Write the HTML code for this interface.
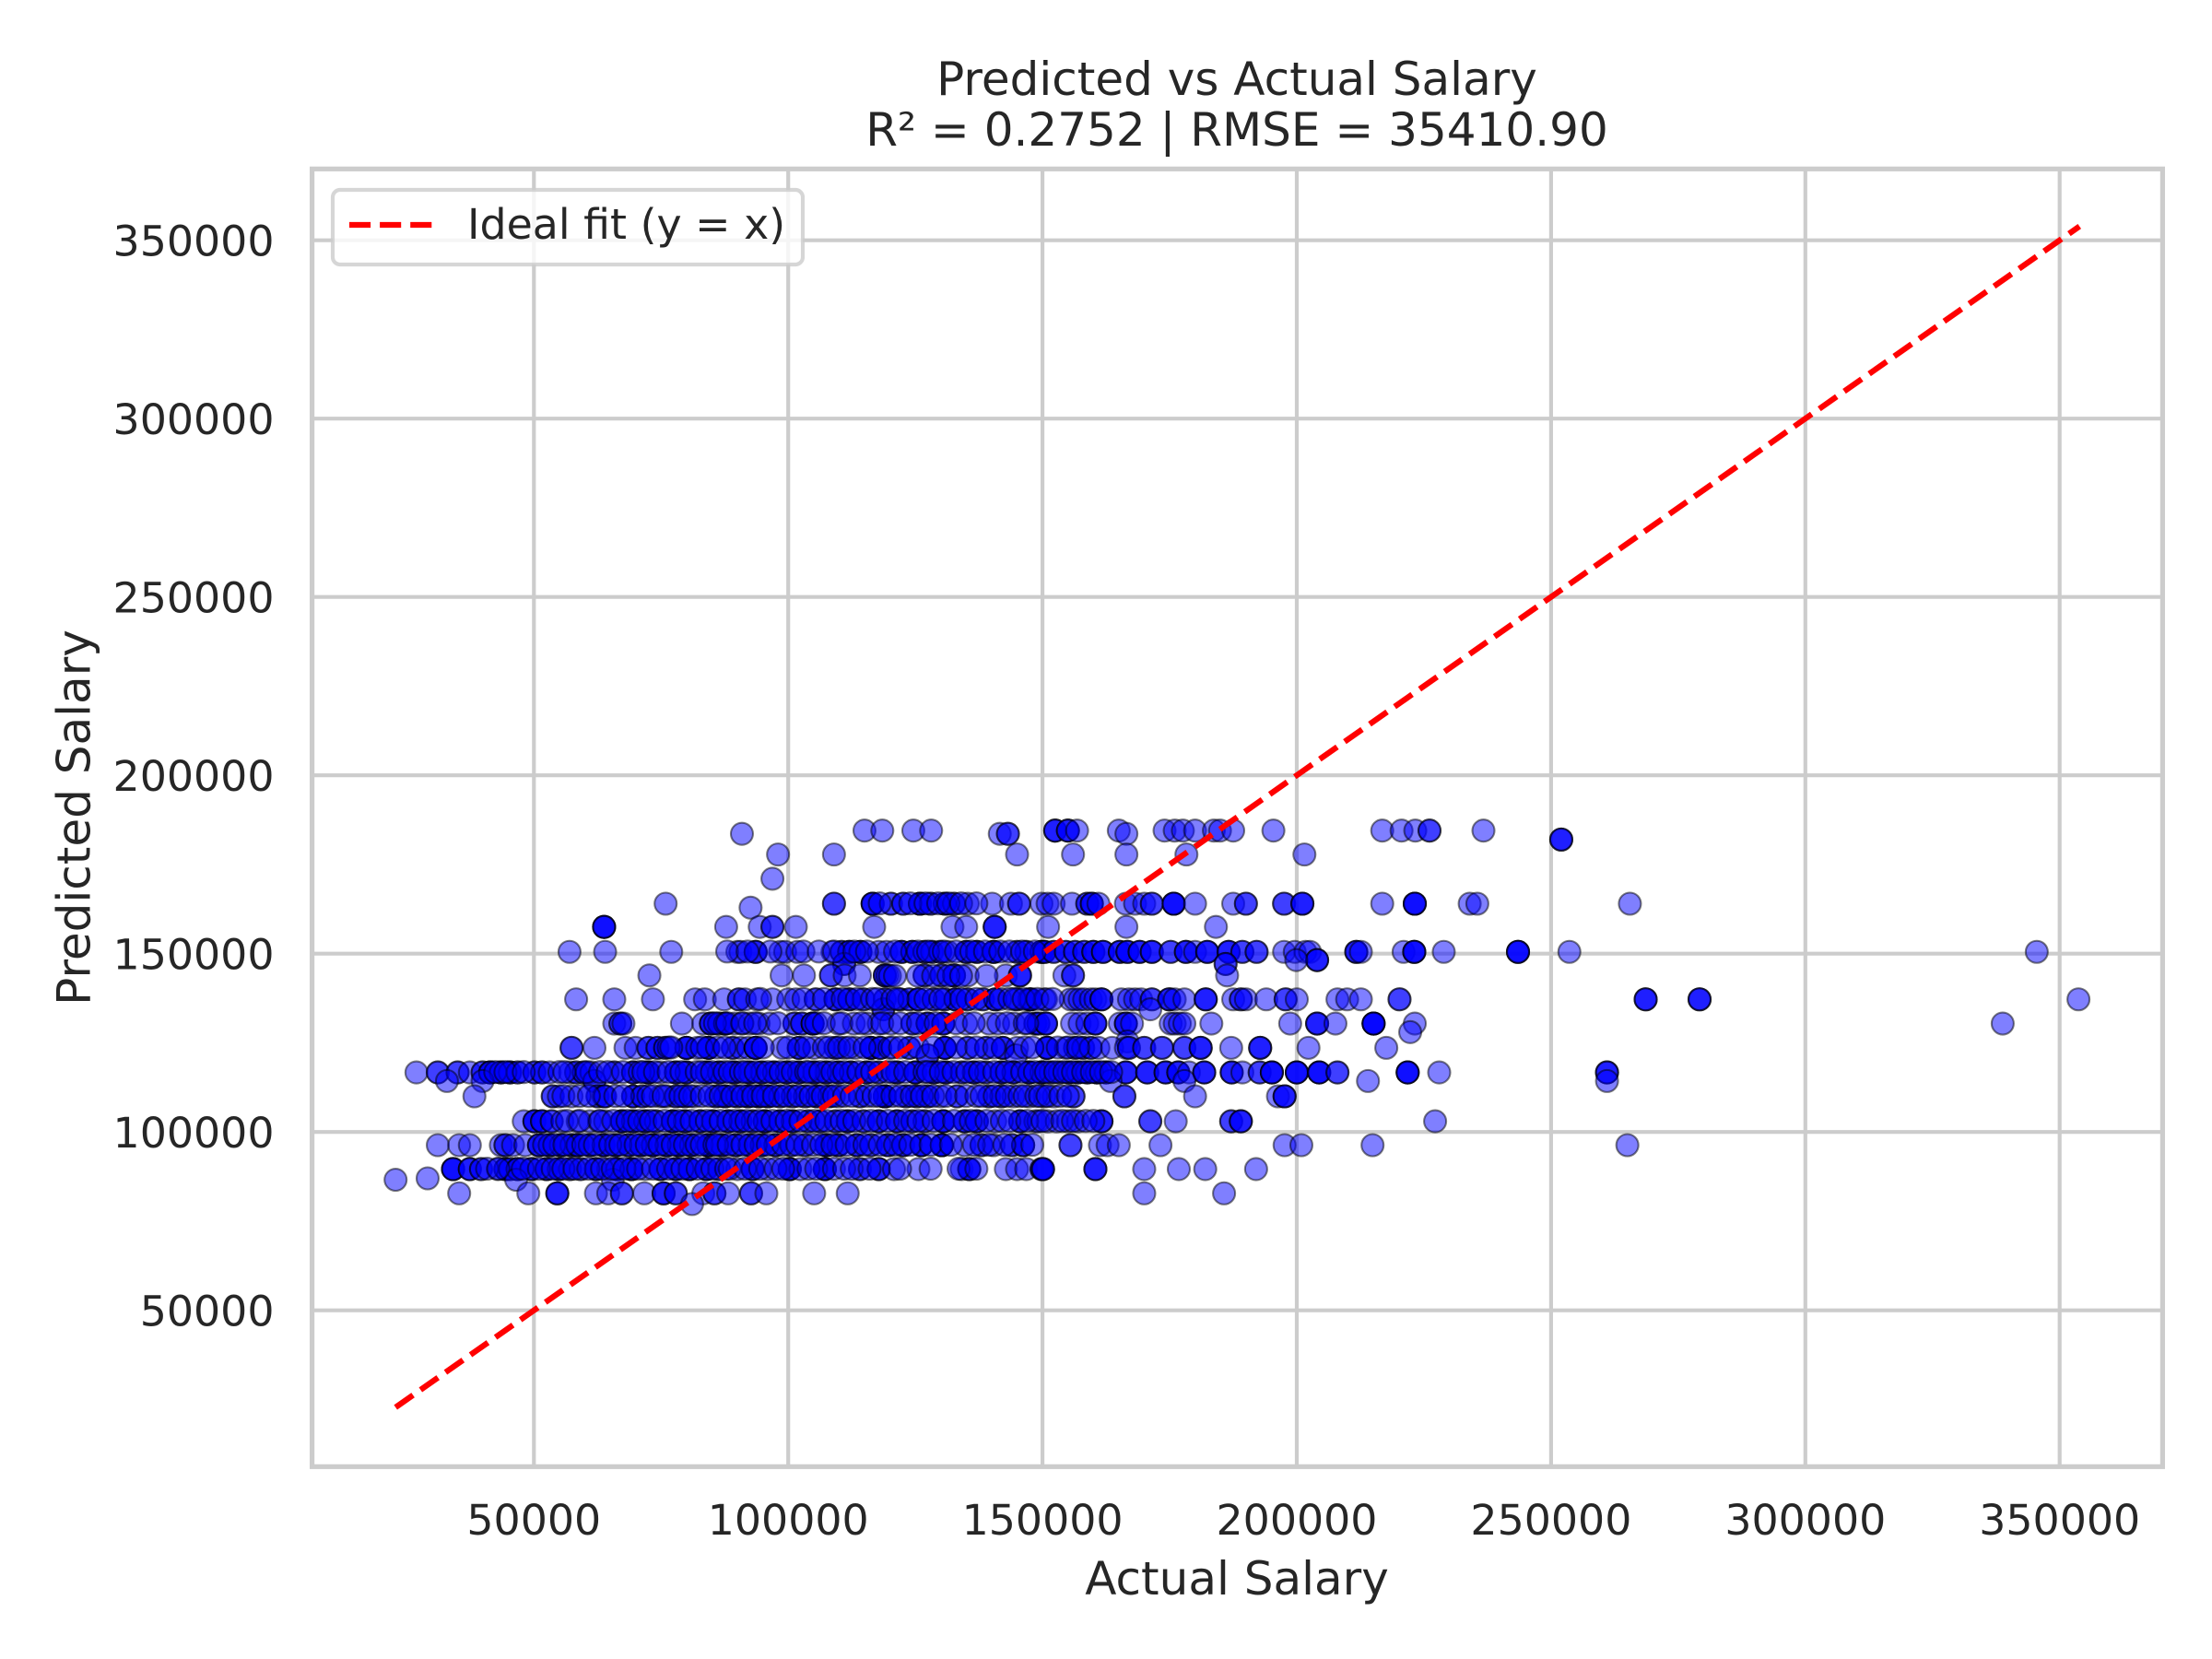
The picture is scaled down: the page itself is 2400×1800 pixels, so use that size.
<!DOCTYPE html>
<html lang="en">
<head>
<meta charset="utf-8">
<title>Predicted vs Actual Salary</title>
<style>
html,body{margin:0;padding:0;background:#fff;width:2400px;height:1800px;overflow:hidden}
svg{display:block}
text{font-family:"DejaVu Sans","Liberation Sans",sans-serif;fill:#262626}
</style>
</head>
<body>
<svg id="chart" xmlns="http://www.w3.org/2000/svg" width="2400" height="1800" viewBox="0 0 2400 1800">
<rect x="0" y="0" width="2400" height="1800" fill="#fff"/>
<text x="1342" y="103" font-size="50" text-anchor="middle">Predicted vs Actual Salary</text>
<text x="1342" y="158" font-size="50" text-anchor="middle">R² = 0.2752 | RMSE = 35410.90</text>
<text x="1342" y="1730" font-size="50" text-anchor="middle">Actual Salary</text>
<text transform="translate(97.5,887) rotate(-90)" font-size="50" text-anchor="middle">Predicted Salary</text>
<g id="grid"></g>
<g id="points"></g>
<g id="fit"></g>
<g id="spines"></g>
<g id="ticks"></g>
<g>
<rect x="361" y="206" width="510" height="81" rx="8" ry="8" fill="#fff" fill-opacity="0.8" stroke="#ccc" stroke-opacity="0.8" stroke-width="4.17"/>
<line x1="379" y1="244" x2="469" y2="244" stroke="#f00" stroke-width="6.25" stroke-dasharray="23.1 10"/>
<text x="507" y="259" font-size="45.83">Ideal fit (y = x)</text>
</g>
</svg>
<script>
// Axis ticks (dollars)
const xTicks = [50000, 100000, 150000, 200000, 250000, 300000, 350000];
const yTicks = [50000, 100000, 150000, 200000, 250000, 300000, 350000];
// Ideal fit endpoints (dollars)
const fitRange = [22800, 353900];
// Predicted salary of each row of points (thousands of dollars)
const predictedLevels = [184.5, 183.6, 182, 177.8, 171, 164, 162.9, 157.5, 150.5, 148.2, 147.1, 143.9, 137.2, 134.4, 130.4, 128, 125.4, 123.6, 121.5, 116.7, 114.3, 110, 103, 96.3, 89.6, 87, 86.6, 82.8, 79.8, 164.1, 150.6, 143.8, 137.3, 130.5, 123.7, 116.8, 110.1, 103.1, 96.4, 89.7];
// Actual salaries of the points on each row (thousands of dollars), same order as predictedLevels
const actualByLevel = [
[115,118.5,124.6,128.1,152.5,152.5,152.5,155,155,155,156.8,165,174,176,177.6,180,183.7,184.9,187.5,195.4,216.8,220.6,223.3,226.1,226.1,236.7],
[90.9,141.6,143.2,143.2,166.5],
[252,252,252],
[98,109,145,156,166.5,178.3,201.5],
[96.9],
[75.9,109,109,116.6,116.6,116.6,116.6,120.2,120.2,122.6,122.6,125.9,125.9,125.9,125.9,128,128,130.8,130.8,130.8,132.6,132.6,135.3,140.1,143.8,145.4,145.4,149.8,151,152.2,155.8,158.8,158.8,159.7,159.7,159.7,161,166.4,168.2,170,171.5,171.5,175.8,175.8,175.8,175.8,180,187.5,190,190,197.5,197.5,201.1,201.1,201.1,216.8,223.2,223.2,223.2,223.2,234,235.5,265.5],
[92.6],
[63.8,63.8,63.8,63.8,87.8,94.4,96.9,96.9,101.5,116.9,132.3,135,140.6,140.6,140.6,151.1,166.5,184.1],
[57,64,77,90,90.6,93.6,93.6,93.6,98.4,99.4,101.8,108.7,110.5,110.5,112,112,112,114.2,114.2,114.2,117.8,119.3,122.3,122.3,122.3,124.4,124.4,124.4,126.8,126.8,128.3,128.3,129.9,129.9,131.4,135,135,135,137.1,137.1,137.1,140.4,140.4,140.4,140.4,145,145,146.8,146.8,149.8,149.8,149.8,149.8,150.4,150.4,150.4,152.2,152.2,154.6,154.6,156.4,156.4,158.2,158.2,160,160,160,161.9,161.9,161.9,165.2,165.2,165.2,166.7,166.7,166.7,169.1,169.1,169.1,171.5,171.5,171.5,175.2,175.2,178.2,178.2,178.2,180,182.4,182.4,182.4,186.6,186.6,186.6,189.3,189.3,192.1,192.1,197.5,199.6,201.7,202.6,211.7,211.7,211.7,212.6,221,223.1,223.1,223.1,223.1,228.9,243.5,243.5,243.5,243.5,253.6,345.5],
[204,204,204,199.9],
[111,111,186,186],
[72.7,98.7,103.1,108.4,108.4,111.1,114.1,119,119,119,119.5,126.8,126.8,130.1,130.1,132.6,132.6,132.6,135.3,142.8,145.5,145.6,145.6,154.3,156,156,186.3],
[58.3,65.8,73.4,81.7,83.6,87.4,90.3,90.3,91.5,93.9,96.9,100,101.5,105.4,105.4,109.3,109.3,109.3,112,112,112,114.8,114.8,119,119,122,122,123.8,123.8,125.6,125.6,125.6,128.6,128.6,130.8,130.8,132.9,132.9,132.9,135.3,135.3,138.3,138.3,140.7,140.7,140.7,145,145,147.4,147.4,147.7,147.7,147.7,150.4,150.7,155.5,156.4,157.3,158.2,159.5,160.4,161.6,161.6,161.6,165.5,167,168.2,169.4,171.5,171.5,174.9,174.9,174.9,176,177.9,182.1,182.1,182.1,187.5,189,189,190,194,197.8,197.8,200,208,209.9,212.6,220.2,220.2,268.6,268.6,268.6,279.2,279.2,279.2,353.7],
[118.7,118.7,171.2],
[65.8,67,67,67.6,79.1,83.3,84.8,84.8,84.8,86.4,86.4,87.6,87.6,87.6,89.4,90.9,92.4,94.2,96.3,101.2,101.2,102.7,102.7,104.8,104.8,104.8,104.8,109.9,112.9,115.6,117.8,120.2,124.4,124.4,127.4,127.4,127.4,130.5,130.5,130.5,135,139.5,141.3,144.4,148.6,148.6,149.2,149.2,150.7,150.7,150.7,155.8,157.3,158.8,160.4,160.4,160.4,165.2,166.4,166.4,166.4,167.6,175.2,176,177,177.9,183.2,198.7,204,204,204,207.6,215.1,215.1,215.1,215.1,215.1,223.2,338.8],
[222.3],
[166.7],
[57.4,57.4,61.9,68,70,72.5,72.5,74.3,74.3,75.8,75.8,80,80,80,80,82.1,84.3,84.3,84.3,84.3,89.1,89.1,90.6,92.1,93.6,93.6,93.6,93.6,98.8,102.1,102.1,102.1,105.1,109.3,109.3,111.1,113.2,116.3,116.3,116.3,116.3,118.1,118.1,118.1,119.9,123.8,123.8,130.8,130.8,130.8,130.8,135.3,135.3,138.9,138.9,142.2,142.2,142.2,145,150.9,150.9,150.9,150.9,154.6,156.4,156.4,158,158,159.5,159.5,161,163.7,166.4,167,167,170,170,173.5,173.5,177.9,177.9,181.1,181.1,181.1,187.1,192.8,192.8,192.8,202.3,217.6],
[127.4,127.4,144.8],
[26.9,31.1,31.1,35,35,37.4,39.9,39.9,41.4,41.4,41.4,41.4,43.5,43.5,43.5,45.3,45.3,45.3,46.8,46.8,50.1,50.1,51.6,51.6,53.1,57.1,58.3,58.3,59.8,59.8,61.3,65.8,65.8,69.5,69.5,69.5,72.5,72.5,72.5,72.5,74.9,77.9,77.9,77.9,80,80,80,84,84,84,86.4,86.4,86.4,89.4,89.4,89.4,92.4,92.4,92.4,94.8,94.8,94.8,97.2,97.2,97.2,99.7,99.7,99.7,102.1,102.1,102.1,105.1,105.1,105.1,107.5,107.5,107.5,109.9,109.9,109.9,112.3,112.3,112.3,115.4,115.4,115.4,117.8,117.8,121.4,121.4,121.4,125,125,125,125,128.6,128.6,128.6,131,131,131,134.1,134.1,136.5,136.5,136.5,138.9,138.9,141.9,141.9,141.9,144.3,144.3,144.3,147.4,147.4,147.4,147.4,149.8,149.8,149.8,149.8,151.6,151.6,153.4,153.4,155.2,155.2,155.2,157,157,157,158.8,158.8,158.8,160.7,160.7,160.7,160.7,162.5,162.5,162.5,166.4,166.4,166.4,170.6,170.6,170.6,174.2,174.2,174.2,176.7,176.7,176.7,178.8,181.8,181.8,181.8,187.2,187.2,187.2,189.3,192.7,192.7,195.1,195.1,195.1,195.1,200,200,200,200,204.4,204.4,204.4,204.4,208,208,221.8,221.8,221.8,221.8,228,261,261,261],
[32.9,39.9,61.9,61.9,163.4,177.9,214,261],
[38.3,53.7,53.7,54.9,57.4,62.5,62.5,63.7,64,64,69.5,69.5,69.5,71.3,71.3,74.9,76.1,77.9,77.9,79.7,79.7,81.5,85.8,85.8,87.6,87.6,87.6,90,90,92.1,92.1,92.1,94.2,94.2,94.2,96,96,96,98.4,98.4,100.9,100.9,103.3,103.3,105.7,105.7,105.7,108.1,108.1,109.9,114.1,114.1,119,119,119,119,119,123.2,123.2,125.3,125.3,127.4,127.4,129.9,133.2,133.2,139.5,139.5,141.9,141.9,144.3,147.4,150.4,152.2,156.1,156.1,166.1,166.1,180,196.3,197.6,197.6,197.6],
[48,50.1,50.1,50.1,51.6,51.6,51.6,53.5,53.5,55.6,58.6,61,62.8,64,67.3,67.3,67.3,67.3,69.5,69.5,69.5,71.9,71.9,71.9,74,74,77.3,77.3,77.3,77.3,79.7,79.7,79.7,82.7,82.7,82.7,85.2,85.2,85.2,88.2,88.2,88.2,90.6,90.6,90.6,93,93,95.4,95.4,95.4,95.4,98.4,98.4,98.4,100.9,100.9,100.9,103.9,103.9,106.3,106.3,109.3,109.3,111.7,111.7,111.7,114.8,114.8,117.8,117.8,117.8,121.4,121.4,121.4,124.4,124.4,126.8,126.8,130.5,130.5,130.5,130.5,134.7,134.7,134.7,137.1,137.1,137.1,140.7,145.6,145.6,145.6,148.6,149.2,151,152.8,155,157,161.6,161.6,161.6,171.2,171.2,176.2,187.1,187.1,189,189,189,227.2],
[31.1,35.3,37.4,43.5,44.4,44.4,45.9,48.3,51,51,51,53.1,53.1,53.1,55.3,55.3,55.3,57.4,57.4,57.4,58.6,58.6,58.6,58.6,61,61,61,63.7,63.7,63.7,63.7,66.1,66.1,66.1,68.6,68.6,68.6,71,71,71,73.4,73.4,73.4,73.4,76.1,76.1,76.1,76.1,78.5,78.5,78.5,78.5,80.9,80.9,80.9,84.3,84.3,84.3,84.3,84.3,87,87,87,89.7,89.7,89.7,92.4,92.4,92.4,94.8,94.8,94.8,97.5,97.5,97.5,100.6,100.6,103.3,103.3,107.5,107.5,107.5,107.5,109.9,109.9,109.9,113.5,113.5,113.5,116.3,116.3,119.6,119.6,119.6,122.6,122.6,122.6,126.2,126.2,126.2,126.2,130.2,130.2,130.2,130.2,130.2,134.7,138,138,140.4,144,144,146.2,146.2,146.2,155.5,155.5,161.3,162.8,165,173.2,197.6,200.9,214.9,265],
[34.1,34.1,34.1,34.1,37.4,37.4,37.4,39.6,39.6,42.9,44.4,44.4,44.4,45.3,45.3,46.8,46.8,46.8,49.5,49.5,49.5,52.5,52.5,52.5,54.9,54.9,54.9,57.1,57.1,59.2,59.2,62.2,62.2,62.2,64.6,66.4,66.4,66.4,69.2,69.2,69.2,69.2,71.9,74.9,74.9,74.9,77.9,77.9,77.9,80.6,80.6,80.6,80.6,83.9,83.9,83.9,86.4,86.4,90,93,93,93,96,100.3,100.3,100.3,100.3,102.4,107.2,107.2,107.2,107.2,114.1,114.1,117.8,117.8,117.8,120.8,125.6,134.1,135.6,135.6,135.6,142.8,145,146.8,149.8,149.8,150.1,150.1,150.1,160.4,160.4,160.4,170,176.8,182,192],
[29.1],
[22.8,46.5,65.5],
[35.3,48.9,54.6,54.6,54.6,62.2,64.6,67.3,67.3,71.7,75.5,75.5,75.5,77.9,77.9,83.3,85.5,85.5,88.2,92.7,92.7,95.7,105.1,111.7,170,185.7],
[81.1],
[118,124,127,129.5,131.5,134,137],
[88,92,96.5,103,106,109,113,115.5,121,125.5,127.5,130.6,133,136,138.7,141.7,143.5,146,148.5],
[120,121,125.5,128.5,131.5,134,139],
[94.5,103,107,110.7,113.5,116.5,117.5,120.5,121.5,127,129.9,134,137,141.7,143.5,144.5,146.3,149,152],
[85.6,88,91,93.5,98,105.5,107,110.5,114.4,118.5,122,125.5,129,133,136.5,143,146.5,147],
[76.5,77,83,86,87.5,95,100,103.5,107,108,110,112,115,120.5,122,125.5,128.5,133,137,140.5,146.5,148,153,155,157],
[42.4,44.4,48,55,56,60.4,63,64.5,67.5,70.8,71.5,73.8,76.5,79,82,83,85,87.5,88.5,90.7,91.5,93.6,96,98.5,100.9,103.5,104,106.3,108.7,111,113.8,116.5,119.5,120.5,123,126.8,127.5,130,132.5,135.2,137.7,140.5,143,146,148.5,150.7,152.5,154.3,156,158,159.7,161.5,163.5],
[55.8,59,60.8,66,67.5,72.5,73.4,75.5,78.8,80.7,83,84.5,86.7,89,91,93.1,95,97.2,99.5,102,104.4,106.8,109,111,112.5,115.5,116.8,118,120.5,122,124.3,126.3,128.5,131,135,137,138,140.6,143,145.5,146.5,148.8,149.5,151,153.5,155],
[56.5,59,63,65.6,68.4,70.7,73,75.7,78.5,81,84,86.7,89.4,91.8,94.2,96.9,99.7,102.4,105.1,107.5,110.5,113,116.3,119.6,123,125.6,128.6,132.6,135.9,139,142,143.5,147,150,153.9,156,158.5,160],
[52,54,56,59.7,62,65,67,70,72.2,74.7,77.3,79.7,82,83,85.5,86,88.3,91,93.6,96,99,101.8,104.9,106.5,108.7,111.5,115,118,121,124,128,132,136.5,139.5,142.5,148],
[40.8,43,47.8,51,53.7,55.8,58,60.7,63.4,65.5,67.8,70.5,73.4,76.4,79.2,82.2,85.1,87.8,88.5,91.5,94.5,97.5,99,104,105.5,109,111,112.5,116,122,128,133.5,137]
];
</script>
<script>
const SVGNS = 'http://www.w3.org/2000/svg';
const plotLeft = 338.6, plotRight = 2346.4, plotTop = 183.3, plotBottom = 1591.3;
function xScale(v){ return 579.3 + (v - 50000) * 275.9 / 50000; }
function yScale(v){ return 1421.7 - (v - 50000) * 193.5 / 50000; }
function make(tag, attrs){
  const el = document.createElementNS(SVGNS, tag);
  for (const k in attrs) el.setAttribute(k, attrs[k]);
  return el;
}
const gridG = document.getElementById('grid');
const pointsG = document.getElementById('points');
const fitG = document.getElementById('fit');
const spinesG = document.getElementById('spines');
const ticksG = document.getElementById('ticks');

xTicks.forEach(function(t){
  const x = xScale(t);
  const line = make('line', {x1:x, x2:x, y1:plotTop, y2:plotBottom, stroke:'#ccc', 'stroke-width':4.17});
  
  
  gridG.appendChild(line);
  const label = make('text', {x:x, y:1665, 'font-size':45.83, 'text-anchor':'middle'});
  
  
  label.textContent = String(t);
  ticksG.appendChild(label);
});
yTicks.forEach(function(t){
  const y = yScale(t);
  const line = make('line', {x1:plotLeft, x2:plotRight, y1:y, y2:y, stroke:'#ccc', 'stroke-width':4.17});
  
  
  gridG.appendChild(line);
  const label = make('text', {x:297.5, y:y + 16.8, 'font-size':45.83, 'text-anchor':'end'});
  
  
  label.textContent = String(t);
  ticksG.appendChild(label);
});
predictedLevels.forEach(function(level, i){
  actualByLevel[i].forEach(function(actual){
    const c = make('circle', {cx:xScale(actual * 1000), cy:yScale(level * 1000), r:12, fill:'#00f', 'fill-opacity':0.5, stroke:'#000', 'stroke-opacity':0.5, 'stroke-width':2.08});
    
    
    pointsG.appendChild(c);
  });
});
const fitLine = make('line', {x1:xScale(fitRange[0]), y1:yScale(fitRange[0]), x2:xScale(fitRange[1]), y2:yScale(fitRange[1]), stroke:'#f00', 'stroke-width':6.25, 'stroke-dasharray':'23.1 10'});


fitG.appendChild(fitLine);
const frame = make('rect', {x:plotLeft, y:plotTop, width:plotRight - plotLeft, height:plotBottom - plotTop, fill:'none', stroke:'#ccc', 'stroke-width':5.2});


spinesG.appendChild(frame);
</script>
</body>
</html>
